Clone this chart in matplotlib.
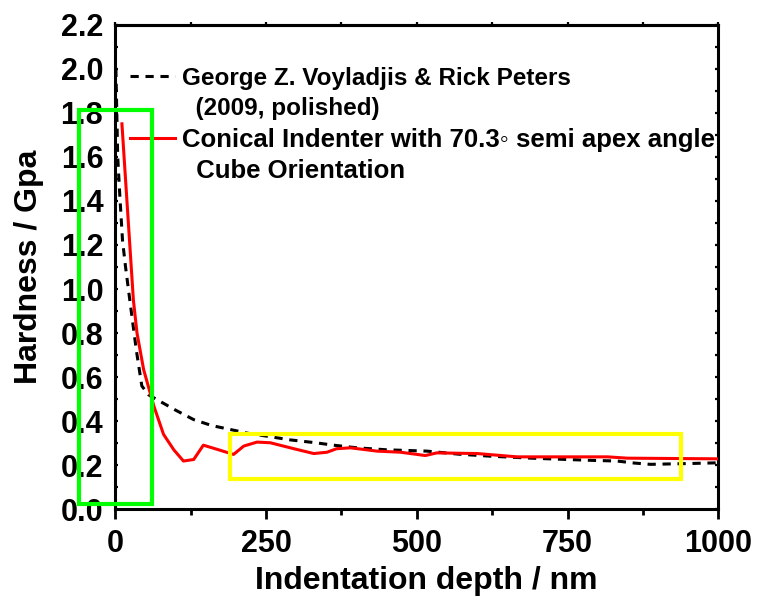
import matplotlib
matplotlib.use("Agg")
import matplotlib.pyplot as plt
from matplotlib.lines import Line2D
from matplotlib.patches import Rectangle
from matplotlib.ticker import MultipleLocator, FormatStrFormatter

plt.rcParams['font.family'] = ['Liberation Sans', 'DejaVu Sans']
plt.rcParams['font.weight'] = 'bold'

# Reference curve (George Z. Voyladjis & Rick Peters, 2009)
ref_x = [1, 2.5, 4, 8, 12, 17, 25, 35, 44, 55, 69, 100, 130, 160, 191, 220, 251, 290,
         329, 365, 401, 450, 517, 570, 622, 690, 749, 790, 832, 860, 887, 940, 1000]
ref_y = [2.0, 1.8, 1.6, 1.40, 1.22, 1.10, 0.93, 0.72, 0.56, 0.52, 0.498, 0.45, 0.407,
         0.38, 0.362, 0.345, 0.332, 0.315, 0.303, 0.29, 0.279, 0.27, 0.264, 0.25,
         0.241, 0.232, 0.226, 0.222, 0.219, 0.21, 0.204, 0.207, 0.211]

# Conical indenter simulation
sim_x = [11, 30, 36, 47, 64, 80, 97, 113, 130, 146, 169, 196, 213, 235, 257, 296, 329,
         351, 367, 390, 434, 473, 514, 533, 600, 666, 749, 816, 849, 1000]
sim_y = [1.75, 0.95, 0.80, 0.634, 0.468, 0.34, 0.27, 0.219, 0.226, 0.291, 0.272, 0.249,
         0.287, 0.305, 0.302, 0.275, 0.253, 0.259, 0.275, 0.279, 0.264, 0.259, 0.244,
         0.256, 0.253, 0.238, 0.238, 0.238, 0.232, 0.229]

labels = ["George Z. Voyladjis & Rick Peters", "  (2009, polished)",
          "Conical Indenter with 70.3\u25e6 semi apex angle", "  Cube Orientation"]

# highlight boxes (data coords): x0, x1, y0, y1
green_box = [-60, 61.5, 0.024, 1.812]
yellow_box = [190, 937.5, 0.139, 0.341]

xticks = [0, 250, 500, 750, 1000]
yticks = [0.0, 0.2, 0.4, 0.6, 0.8, 1.0, 1.2, 1.4, 1.6, 1.8, 2.0, 2.2]

fig = plt.figure(figsize=(7.57, 6.07), dpi=100)
ax = fig.add_axes([0.1523, 0.1610, 0.7968, 0.7983])

l1, = ax.plot(ref_x, ref_y, color='black', lw=2.2, linestyle=(0, (2.7, 2.2)), zorder=3)
l2, = ax.plot(sim_x, sim_y, color='#ff0000', lw=2.2, zorder=4)

for (x0, x1, y0, y1), c in [(green_box, '#00ff00'), (yellow_box, '#ffff00')]:
    ax.add_patch(Rectangle((x0, y0), x1 - x0, y1 - y0, fill=False, edgecolor=c,
                           lw=3.0, clip_on=False, zorder=6))

ax.set_xlim(0, 1000)
ax.set_ylim(0, 2.2)
ax.set_xticks(xticks)
ax.set_yticks(yticks)
ax.xaxis.set_minor_locator(MultipleLocator(125))
ax.yaxis.set_minor_locator(MultipleLocator(0.1))
ax.yaxis.set_major_formatter(FormatStrFormatter('%.1f'))

for s in ax.spines.values():
    s.set_linewidth(2.2)

ax.tick_params(axis='x', which='major', direction='out', length=7.2, width=2.0,
               labelsize=22, pad=7, top=False)
ax.tick_params(axis='x', which='minor', direction='out', length=4, width=2.0, top=False)
ax.tick_params(axis='y', which='both', direction='in', length=2.5, width=1.6,
               right=True, labelsize=22, pad=8.6)

sec = ax.secondary_xaxis('top')
sec.set_xticks(xticks)
sec.xaxis.set_minor_locator(MultipleLocator(125))
sec.tick_params(axis='x', which='both', direction='out', length=2.5, width=1.6,
                labeltop=False)
sec.spines['top'].set_linewidth(2.2)

ax.set_xlabel("Indentation depth / nm", fontsize=23, fontweight='bold')
ax.set_ylabel("Hardness / Gpa", fontsize=23, fontweight='bold')
ax.xaxis.set_label_coords(0.515, -0.117)
ax.yaxis.set_label_coords(-0.118, 0.5)

blank = Line2D([], [], linestyle='none')
leg = ax.legend([l1, blank, l2, blank], labels, loc='upper left',
                bbox_to_anchor=(130 / 757, 1 - 67 / 607), bbox_transform=fig.transFigure,
                frameon=False, fontsize=17.5, handlelength=1.85, handletextpad=0.3,
                labelspacing=0.3, borderpad=0, borderaxespad=0)
for t, fs in zip(leg.get_texts(), [17.5, 17.5, 18.5, 18.5]):
    t.set_fontsize(fs)

fig.savefig("out.png", dpi=100)
